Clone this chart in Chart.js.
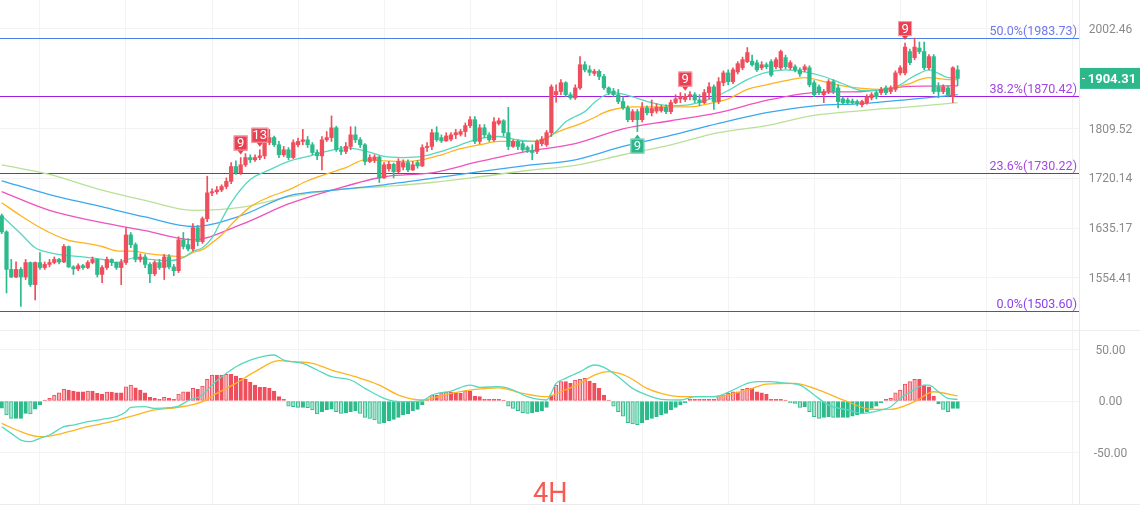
<!DOCTYPE html>
<html><head><meta charset="utf-8">
<script src="https://cdn.jsdelivr.net/npm/chart.js@4.4.1/dist/chart.umd.min.js"></script>
<style>
html,body{margin:0;padding:0;background:#fff;}
body{width:1140px;height:521px;position:relative;overflow:hidden;font-family:Roboto,"Noto Sans",sans-serif;}
#wrapMain{position:absolute;left:0;top:0;width:1140px;height:330px;}
#wrapMacd{position:absolute;left:0;top:331px;width:1140px;height:173px;}
.sep{position:absolute;left:0;width:1140px;height:1px;background:#ececec;}
#tf{position:absolute;left:533px;top:480px;font-size:27px;line-height:1;color:#f75a52;font-family:Roboto,sans-serif;}
</style></head>
<body>
<div id="wrapMain"><canvas id="main" width="1140" height="330"></canvas></div>
<div class="sep" style="top:330px"></div>
<div id="wrapMacd"><canvas id="macd" width="1140" height="173"></canvas></div>
<div class="sep" style="top:504px"></div>
<div id="tf">4H</div>
<script>
// ---------- DATA ----------
const candleOpen = [
1656,1629,1568,1556,1568,1556,1579,1544,1579,1571,
1576,1579,1584,1580,1605,1572,1569,1574,1571,1579,
1584,1560,1571,1584,1579,1571,1579,1624,1608,1584,
1588,1576,1561,1579,1571,1588,1572,1566,1616,1608,
1601,1636,1613,1651,1695,1697,1700,1706,1715,1741,
1730,1744,1757,1753,1757,1760,1784,1793,1780,1762,
1771,1757,1780,1786,1789,1780,1766,1760,1789,1793,
1811,1771,1768,1777,1798,1789,1780,1750,1752,1758,
1721,1737,1745,1732,1740,1748,1735,1748,1742,1775,
1777,1802,1793,1787,1790,1798,1799,1804,1815,1826,
1786,1811,1798,1789,1819,1824,1802,1777,1786,1782,
1775,1770,1768,1782,1780,1802,1873,1879,1896,1873,
1867,1886,1931,1921,1914,1918,1908,1886,1880,1873,
1860,1848,1826,1841,1826,1848,1839,1842,1843,1849,
1841,1858,1865,1864,1870,1873,1863,1858,1877,1888,
1860,1896,1915,1898,1917,1925,1937,1938,1935,1925,
1931,1937,1927,1925,1945,1925,1927,1921,1921,1925,
1896,1888,1873,1879,1898,1886,1865,1863,1861,1860,
1854,1858,1867,1877,1877,1886,1879,1883,1915,1915,
1957,1945,1964,1957,1925,1947,1888,1879,1886,1869,
1921];
const candleHigh = [
1659,1631,1584,1580,1571,1584,1580,1580,1595,1580,
1584,1588,1586,1608,1606,1574,1577,1576,1582,1588,
1585,1574,1588,1585,1580,1584,1636,1628,1611,1593,
1592,1579,1582,1584,1592,1592,1576,1621,1628,1618,
1643,1640,1654,1724,1702,1706,1709,1721,1748,1751,
1757,1764,1762,1762,1771,1808,1808,1796,1786,1777,
1775,1789,1792,1808,1795,1784,1771,1795,1804,1833,
1814,1777,1784,1813,1813,1793,1782,1762,1762,1760,
1748,1750,1747,1755,1753,1753,1750,1752,1780,1784,
1808,1813,1798,1802,1802,1808,1808,1820,1832,1832,
1817,1817,1802,1830,1829,1826,1849,1789,1789,1786,
1778,1780,1789,1795,1806,1892,1892,1902,1898,1877,
1892,1947,1937,1929,1922,1921,1912,1888,1885,1883,
1869,1852,1845,1845,1858,1852,1863,1856,1853,1854,
1863,1873,1877,1875,1879,1877,1873,1883,1896,1892,
1906,1919,1921,1925,1937,1946,1965,1950,1940,1937,
1935,1941,1945,1960,1950,1939,1931,1925,1931,1929,
1900,1892,1883,1902,1902,1892,1869,1867,1865,1863,
1863,1873,1877,1880,1887,1890,1890,1919,1929,1974,
1962,1984,1976,1976,1951,1951,1896,1892,1890,1927,
1929];
const candleLow = [
1626,1531,1555,1555,1510,1552,1541,1520,1568,1568,
1572,1577,1577,1579,1571,1560,1566,1568,1569,1577,
1556,1547,1568,1574,1568,1544,1576,1603,1580,1580,
1571,1547,1558,1568,1552,1569,1558,1563,1601,1598,
1598,1606,1610,1646,1690,1693,1697,1702,1711,1727,
1727,1741,1748,1750,1753,1755,1780,1777,1757,1759,
1753,1755,1776,1780,1775,1762,1753,1735,1786,1786,
1768,1762,1764,1771,1784,1775,1744,1748,1748,1713,
1720,1733,1721,1730,1735,1732,1734,1738,1741,1768,
1771,1786,1784,1786,1787,1791,1796,1795,1811,1782,
1782,1793,1786,1786,1816,1796,1771,1775,1771,1768,
1766,1753,1764,1778,1777,1795,1859,1873,1869,1864,
1864,1883,1917,1910,1910,1902,1883,1873,1869,1856,
1845,1822,1822,1804,1822,1835,1833,1838,1840,1837,
1837,1856,1858,1860,1863,1858,1852,1856,1865,1845,
1856,1890,1892,1894,1913,1921,1935,1928,1918,1921,
1923,1908,1923,1921,1923,1921,1917,1908,1917,1888,
1869,1873,1858,1875,1875,1848,1854,1854,1855,1852,
1850,1855,1863,1865,1873,1873,1875,1879,1911,1911,
1931,1941,1953,1921,1921,1875,1867,1875,1869,1858,
1890];
const candleClose = [
1629,1568,1556,1568,1556,1579,1544,1579,1571,1576,
1579,1584,1580,1605,1572,1569,1574,1571,1579,1584,
1560,1571,1584,1579,1571,1579,1624,1608,1584,1588,
1576,1561,1579,1571,1588,1572,1566,1616,1605,1601,
1636,1613,1651,1695,1697,1700,1706,1715,1741,1730,
1744,1757,1753,1757,1760,1784,1793,1780,1762,1771,
1757,1784,1786,1789,1780,1766,1760,1789,1793,1811,
1771,1768,1777,1798,1789,1780,1750,1757,1758,1721,
1744,1745,1732,1750,1748,1735,1744,1742,1775,1777,
1802,1789,1787,1796,1798,1802,1804,1815,1826,1786,
1811,1798,1789,1822,1824,1802,1777,1786,1777,1771,
1770,1766,1786,1790,1802,1888,1879,1896,1873,1867,
1886,1931,1921,1916,1918,1908,1886,1877,1873,1860,
1848,1826,1841,1826,1848,1839,1847,1849,1849,1841,
1858,1865,1869,1870,1873,1863,1858,1877,1888,1860,
1898,1915,1898,1921,1933,1941,1955,1931,1921,1931,
1927,1911,1941,1957,1927,1935,1921,1913,1927,1892,
1873,1877,1879,1898,1879,1860,1858,1858,1858,1856,
1860,1869,1873,1869,1883,1877,1886,1915,1925,1966,
1935,1966,1957,1925,1947,1879,1879,1888,1873,1925,
1904.31];

// moving averages (read at sample candle positions)
const maFastIdx = [0,4,7,10,14,17,21,24,28,31,35,38,40,42,44,46,48,52,56,60,64,68,72,76,80,84,88,92,96,100,104,108,112,114,116,118,120,122,124,126,128,132,136,140,144,148,152,156,160,164,168,172,176,180,184,188,190,192,194,196,198,200];
const maTeal = [1656,1626,1603,1595,1590,1588,1584,1579,1587,1584,1582,1587,1597,1603,1619,1649,1678,1718,1735,1750,1759,1768,1775,1769,1759,1757,1759,1768,1780,1791,1795,1789,1786,1791,1804,1822,1832,1841,1858,1871,1877,1869,1858,1852,1854,1864,1881,1902,1916,1921,1917,1908,1894,1881,1881,1892,1904,1914,1921,1914,1906,1906];
const maOrange = [1678,1656,1641,1628,1615,1611,1605,1598,1597,1593,1590,1588,1595,1600,1611,1624,1641,1671,1688,1700,1716,1728,1739,1753,1751,1750,1753,1762,1773,1780,1786,1786,1787,1793,1802,1809,1815,1822,1830,1839,1845,1850,1850,1850,1850,1856,1865,1883,1892,1900,1906,1898,1890,1885,1883,1890,1894,1902,1906,1904,1902,1902];
const maSlowIdx = [0,10,20,30,40,50,60,70,80,90,100,110,120,130,140,150,160,170,180,190,200];
const maPink  = [1697,1665,1646,1631,1616,1641,1676,1702,1723,1730,1750,1768,1782,1809,1824,1839,1862,1877,1879,1889,1890];
const maBlue  = [1716,1692,1673,1654,1638,1656,1690,1700,1709,1720,1732,1743,1753,1777,1797,1819,1839,1852,1856,1864,1873];
const maGreen = [1744,1727,1702,1682,1665,1670,1688,1700,1706,1713,1723,1734,1743,1762,1780,1802,1815,1834,1843,1850,1858];

// Fibonacci retracement levels
const fibPct = ['50.0%','38.2%','23.6%','0.0%'];
const fibLevels = [1983.73,1870.42,1730.22,1503.60];

// sequential count markers
const markerIdx  = [50,54,133,143,189];
const markerText = ['9','13','9','9','9'];
const markerSide = ['up','up','down','up','up'];

// axis ticks
const priceTicks = [2002.46,1809.52,1720.14,1635.17,1554.41];
const macdTicks = [-50,0,50];

// MACD
const macdHist = [
-7,-13.6,-16.8,-16.8,-16.8,-12,-12.6,-8,-3.9,1,2.6,5.8,8,11.3,10.7,9.7,9,9,9.7,9.7,
7.4,6.8,8.7,8.7,8,8,13.9,15.5,12.9,10.7,8,3.6,2.6,1.6,3.6,2.6,1.6,6.8,9,9,
12.3,11.3,14.6,21,25.2,25.2,25.2,25.9,25.9,24.3,22,21,18.1,15.5,13.3,13.3,12.3,9.7,4.2,1.6,
-4.9,-5.5,-6.1,-6.1,-6.5,-8.7,-12.6,-10.4,-8.7,-7.8,-10.4,-12,-11.3,-10.4,-9.4,-12,-15.9,-16.8,-18.4,-21.7,
-21,-19.1,-17.8,-15.9,-13.6,-12.6,-9.4,-8.1,-3.9,1.6,5.8,5.8,8,8.7,8.4,8,7.4,10,9.7,4.9,
4.2,1.6,1.6,1.6,1.6,0.3,-4.9,-7.1,-9.4,-11.3,-12,-11.3,-10.4,-9.4,-6.1,5.8,15.5,18.8,18.8,17.2,
20.4,21,22,19.4,17.2,12.3,5.8,1,-4.9,-10.4,-14.6,-21,-22.3,-23,-21,-18.4,-16.8,-15.2,-13.6,-12,
-8.7,-6.1,-3.9,-1.6,1.6,1.6,1.6,1.6,1.6,1.6,4.9,5.8,7.4,9,9,11.3,12.3,12.3,9,8,
6.8,1.6,1.6,1.6,1,-1.6,-2.3,-6.1,-5.5,-10.4,-15.2,-16.8,-15.9,-15.2,-15.9,-15.9,-15.9,-15.9,-14.6,-13.6,
-12.6,-10.4,-7.1,-4.9,-1.6,1.6,2.6,8,10.7,16.5,18.8,21,21,15.5,13.9,4.9,-2.9,-8.1,-10.4,-7.1,
-7.1];
const difIdx = [0,2,4,6,8,10,13,15,18,21,24,26,27,30,32,35,37,39,42,44,47,49,52,55,57,59,63,66,69,73,76,80,82,85,88,90,94,98,100,104,107,110,114,116,118,121,124,126,129,132,135,138,142,145,149,153,156,158,161,163,167,170,173,177,180,184,186,188,191,193,194,196,198,200];
const difVals = [-24.9,-31.4,-37.9,-39.5,-36.2,-33,-24.9,-23.3,-20.1,-17.8,-15.2,-10.4,-6.1,-5.5,-7.1,-6.5,-4.9,0.3,5.8,15.5,26.9,33.3,39.8,43.7,44.7,39.8,36.6,30.1,23.6,20.4,12.3,2.6,0,-0.6,0.3,5.8,9.7,15.5,13.3,13.9,10.7,4.2,1,17.2,22,28.5,35,32.7,23.6,12.3,5.8,1.6,1,4.2,4.2,10.7,17.2,18.8,18.8,17.8,15.5,5.8,-3.9,-8.7,-12,-8.7,-5.5,2.6,11.3,15.5,15.5,9,2.6,1.6];
const deaIdx = [0,4,8,10,14,18,23,28,32,37,42,45,49,53,58,61,65,69,74,79,83,88,90,94,99,104,109,114,117,121,124,127,131,135,138,142,149,156,160,166,170,177,182,186,191,195,200];
const deaVals = [-21.7,-29.8,-34.6,-34,-29.8,-24.9,-20.1,-13.6,-8.7,-6.1,-0.6,7.4,17.2,28.5,39.2,38.2,36.6,30.1,23.6,15.5,5.8,1,2.6,7.4,11.3,12.8,7.4,4.2,9,17.2,25.2,28.5,23.6,12.3,7.4,4.2,4.2,10.7,16.5,17.2,12.3,-0.6,-8.1,-8.1,-0.6,9,4.9];

// ---------- STYLE ----------
const UP = '#ef4f5d', DOWN = '#2dbb8c';
const UP_LIGHT = '#f7b0b6', DOWN_LIGHT = '#a6e2cc';
const X_MIN = -0.36, X_MAX = 225.4;
const xGrid = [8,26,44,62,80,98,116,134,152,170,188,206,224];
const GRID = '#f3f3f3';
const AXIS_W = 61;
Chart.defaults.font.family = 'Roboto, "Noto Sans", sans-serif';

const idx = candleOpen.map((_, i) => i);
const isUp = i => candleClose[i] >= candleOpen[i];
const candleColor = idx.map(i => isUp(i) ? UP : DOWN);

function xCfg() {
  return {
    type: 'linear', min: X_MIN, max: X_MAX, offset: false,
    grid: { color: GRID, offset: false, drawTicks: false },
    border: { display: false },
    ticks: { display: false },
    afterBuildTicks(s) { s.ticks = xGrid.map(v => ({ value: v })); },
    afterFit(s) { s.height = 0; s.paddingLeft = 0; s.paddingRight = 0; s.paddingTop = 0; s.paddingBottom = 0; }
  };
}
function yFit(s) { s.width = AXIS_W; s.paddingTop = 0; s.paddingBottom = 0; s.paddingLeft = 0; s.paddingRight = 0; }
function lineDs(xs, ys, color, order) {
  return {
    type: 'line', data: xs.map((x, k) => ({ x: x, y: ys[k] })),
    borderColor: color, borderWidth: 1.3, pointRadius: 0, fill: false,
    tension: 0.35, cubicInterpolationMode: 'monotone', order: order
  };
}
function axisLabels(values) {
  return {
    id: 'axisLabels',
    afterDraw(chart) {
      const { ctx, scales: { y } } = chart;
      ctx.save();
      ctx.font = '12px Roboto, sans-serif';
      ctx.fillStyle = '#8a8a8a';
      ctx.textAlign = 'center'; ctx.textBaseline = 'middle';
      values.forEach(v => ctx.fillText(v.toFixed(2), y.left + 31.5, y.getPixelForValue(v) + 1));
      ctx.restore();
    }
  };
}

const fibStyle = [
  { line: '#4a7fe8', text: '#6f78ee' },
  { line: '#a21ee0', text: '#a348e0' },
  { line: '#8c22c6', text: '#a348e0' },
  { line: '#7a30ee', text: '#8c45e8' }
];
const fibPlugin = {
  id: 'fib',
  beforeDatasetsDraw(chart) {
    const { ctx, chartArea: a, scales: { y } } = chart;
    ctx.save();
    fibLevels.forEach((lv, k) => {
      const py = Math.round(y.getPixelForValue(lv)) + 0.5;
      ctx.strokeStyle = fibStyle[k].line; ctx.lineWidth = 1.2;
      ctx.beginPath(); ctx.moveTo(a.left, py); ctx.lineTo(a.right, py); ctx.stroke();
      ctx.fillStyle = fibStyle[k].text;
      ctx.font = '12.5px Roboto, sans-serif';
      ctx.textAlign = 'right'; ctx.textBaseline = 'alphabetic';
      ctx.fillText(fibPct[k] + '(' + lv.toFixed(2) + ')', a.right - 2, py - 4);
    });
    ctx.restore();
  }
};
const markerPlugin = {
  id: 'markers',
  afterDatasetsDraw(chart) {
    const { ctx, scales: { x, y } } = chart;
    ctx.save();
    markerIdx.forEach((i, k) => {
      const t = markerText[k];
      const up = markerSide[k] === 'up';
      const cx = x.getPixelForValue(i);
      const w = t.length > 1 ? 17 : 14, h = 15;
      const fill = up ? '#ea4152' : '#2db68a';
      const edge = up ? '#f5a3ab' : '#9fdcc7';
      let top;
      if (up) {
        const py = y.getPixelForValue(candleHigh[i]);
        top = py - 4 - h - 3;
      } else {
        const py = y.getPixelForValue(candleLow[i]);
        top = py + 4 + 3;
      }
      ctx.fillStyle = fill; ctx.strokeStyle = edge; ctx.lineWidth = 1;
      ctx.fillRect(cx - w / 2, top, w, h);
      ctx.strokeRect(cx - w / 2 + 0.5, top + 0.5, w - 1, h - 1);
      ctx.beginPath();
      if (up) { ctx.moveTo(cx - 3, top + h); ctx.lineTo(cx + 3, top + h); ctx.lineTo(cx, top + h + 4); }
      else { ctx.moveTo(cx - 3, top); ctx.lineTo(cx + 3, top); ctx.lineTo(cx, top - 4); }
      ctx.closePath(); ctx.fill();
      ctx.fillStyle = '#ffffff';
      ctx.font = '13px Roboto, sans-serif';
      ctx.textAlign = 'center'; ctx.textBaseline = 'middle';
      ctx.fillText(t, cx, top + h / 2 + 1);
    });
    ctx.restore();
  }
};
const lastPricePlugin = {
  id: 'lastPrice',
  afterDraw(chart) {
    const { ctx, chartArea: a, scales: { y } } = chart;
    const v = candleClose[candleClose.length - 1];
    const py = y.getPixelForValue(v);
    ctx.save();
    ctx.fillStyle = '#2db88c';
    ctx.fillRect(a.right + 1, py - 10.5, chart.width - a.right - 1, 21);
    ctx.strokeStyle = '#ffffff'; ctx.lineWidth = 1;
    ctx.beginPath(); ctx.moveTo(a.right + 3, Math.round(py) + 0.5); ctx.lineTo(a.right + 6, Math.round(py) + 0.5); ctx.stroke();
    ctx.fillStyle = '#ffffff';
    ctx.font = 'bold 13px Roboto, sans-serif';
    ctx.textAlign = 'center'; ctx.textBaseline = 'middle';
    ctx.fillText(v.toFixed(2), a.right + 33, py + 1);
    ctx.restore();
  }
};

// ---------- MAIN CHART ----------
new Chart(document.getElementById('main'), {
  type: 'bar',
  data: {
    datasets: [
      {
        type: 'bar', data: idx.map(i => ({ x: i, y: [candleLow[i], candleHigh[i]] })),
        backgroundColor: candleColor, barThickness: 1, grouped: false, order: 2, minBarLength: 1
      },
      {
        type: 'bar', data: idx.map(i => ({ x: i, y: [candleOpen[i], candleClose[i]] })),
        backgroundColor: candleColor, barThickness: 3.6, grouped: false, order: 1, minBarLength: 1
      },
      lineDs(maSlowIdx, maGreen, '#b9e196', 6),
      lineDs(maSlowIdx, maBlue, '#3aa8f0', 5),
      lineDs(maSlowIdx, maPink, '#ef52bd', 5),
      lineDs(maFastIdx, maOrange, '#ffb31f', 4),
      lineDs(maFastIdx, maTeal, '#55d8bf', 3)
    ]
  },
  options: {
    responsive: false, animation: false, devicePixelRatio: 1,
    layout: { padding: 0 },
    plugins: { legend: { display: false }, tooltip: { enabled: false } },
    scales: {
      x: xCfg(),
      y: {
        type: 'logarithmic', position: 'right', min: 1474.3, max: 2062.4, beginAtZero: false,
        grid: { color: GRID, drawTicks: false },
        border: { display: true, color: '#e9e9e9' },
        ticks: { display: false },
        afterBuildTicks(s) { s.ticks = priceTicks.map(v => ({ value: v })); },
        afterFit: yFit
      }
    }
  },
  plugins: [fibPlugin, markerPlugin, axisLabels(priceTicks), lastPricePlugin]
});

// ---------- MACD CHART ----------
const histBg = macdHist.map((v, i) => {
  const grow = i > 0 && Math.abs(v) > Math.abs(macdHist[i - 1]);
  if (v >= 0) return grow ? UP_LIGHT : UP;
  return grow ? DOWN_LIGHT : DOWN;
});
const histBorder = macdHist.map(v => v >= 0 ? UP : DOWN);

new Chart(document.getElementById('macd'), {
  type: 'bar',
  data: {
    datasets: [
      {
        type: 'bar', data: macdHist.map((v, i) => ({ x: i, y: v })),
        backgroundColor: histBg, borderColor: histBorder, borderWidth: 1, borderSkipped: false,
        barThickness: 3.6, grouped: false, order: 2
      },
      lineDs(deaIdx, deaVals, '#ffb31f', 1),
      lineDs(difIdx, difVals, '#55d8bf', 0)
    ]
  },
  options: {
    responsive: false, animation: false, devicePixelRatio: 1,
    layout: { padding: 0 },
    plugins: { legend: { display: false }, tooltip: { enabled: false } },
    scales: {
      x: xCfg(),
      y: {
        type: 'linear', position: 'right', min: -100, max: 68,
        grid: { color: GRID, drawTicks: false },
        border: { display: true, color: '#e9e9e9' },
        ticks: { display: false },
        afterBuildTicks(s) { s.ticks = macdTicks.map(v => ({ value: v })); },
        afterFit: yFit
      }
    }
  },
  plugins: [axisLabels(macdTicks)]
});
</script>
</body></html>
